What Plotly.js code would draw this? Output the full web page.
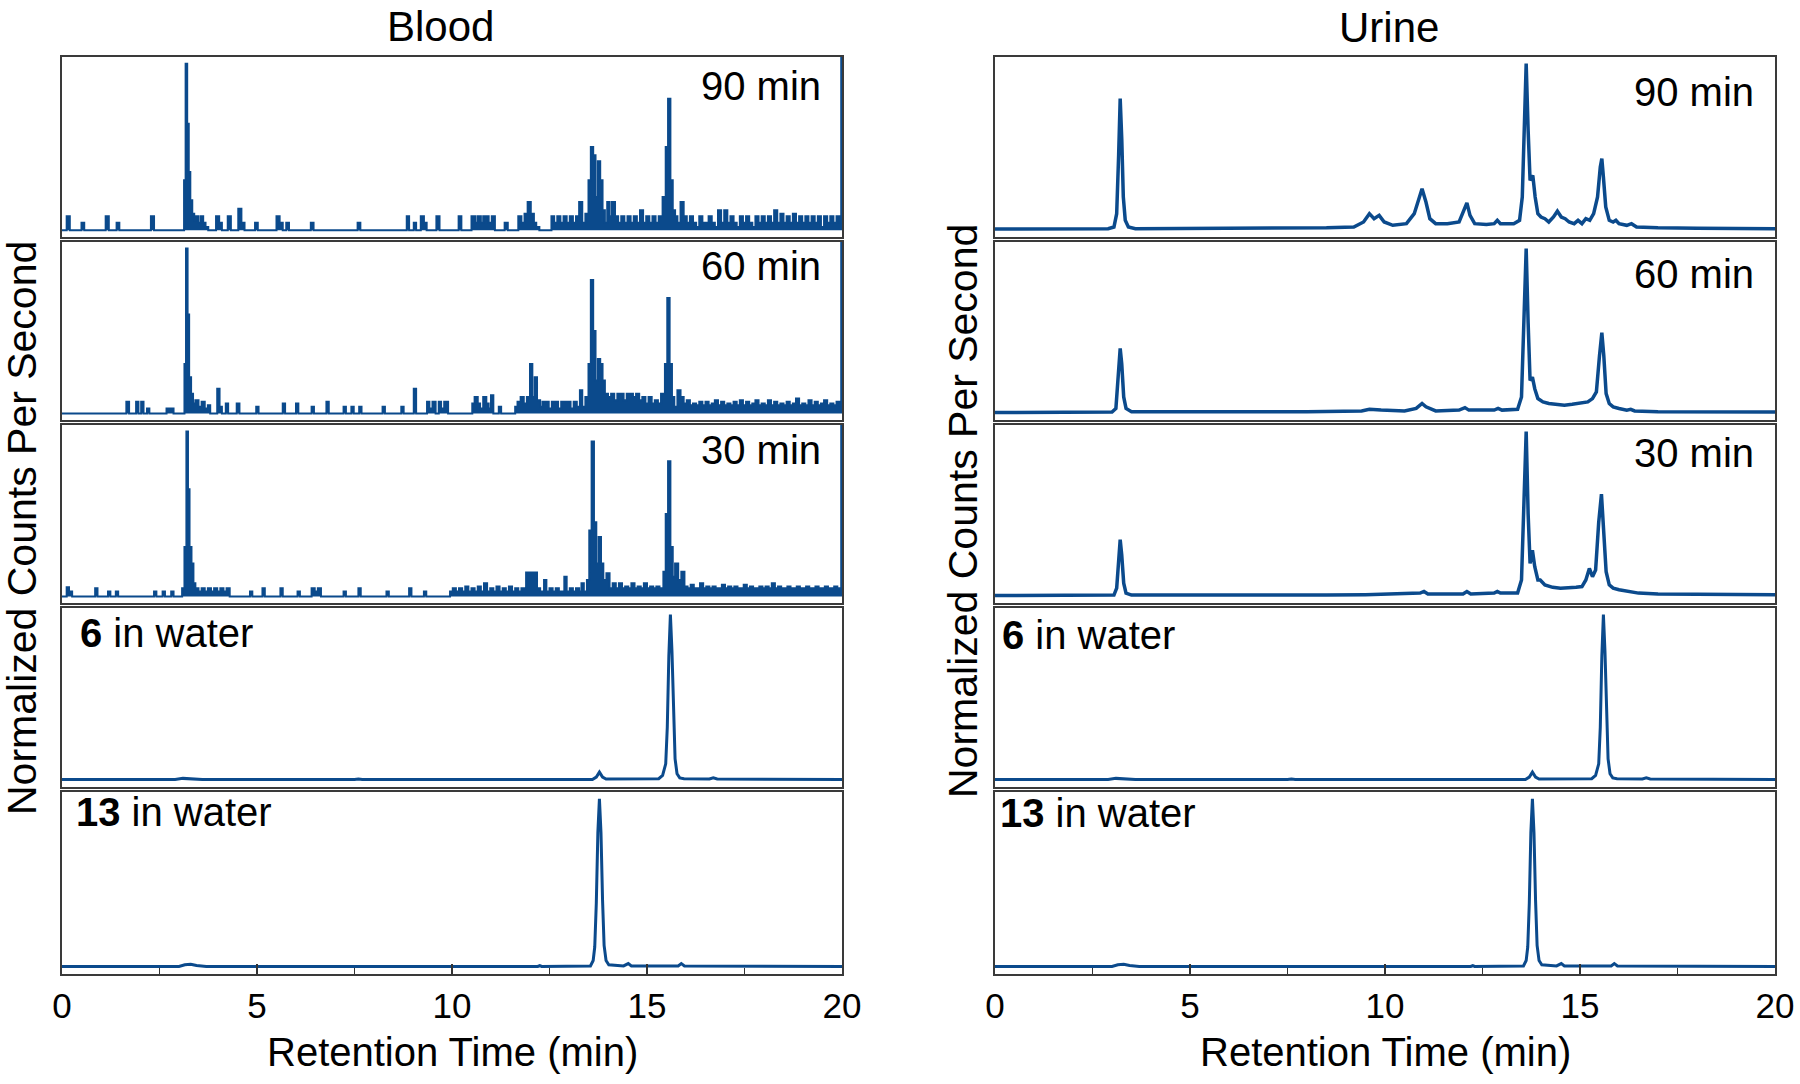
<!DOCTYPE html>
<html>
<head>
<meta charset="utf-8">
<script src="https://cdn.plot.ly/plotly-3.0.1.min.js"></script>
<style>html,body{margin:0;padding:0;background:#fff;}#chart{width:1800px;height:1084px;}</style>
</head>
<body>
<div id="chart"></div>
<script>
// ---- Data: [retention time (min), normalized counts] ----
const blood90 = [[0,0],[0.12,0.085],[0.2,0],[0.5,0.045],[0.57,0],[1.12,0.085],[1.2,0],[1.4,0.045],[1.47,0],[2.28,0.085],[2.36,0],
[3.13,0.3],[3.17,1.0],[3.21,0.64],[3.25,0.35],[3.29,0.18],[3.34,0.1],[3.39,0.06],[3.44,0.085],[3.5,0.045],[3.56,0.085],[3.62,0.045],[3.68,0.02],[3.75,0],
[3.95,0.085],[4.03,0.045],[4.1,0],[4.25,0.085],[4.33,0],[4.52,0.13],[4.6,0.045],[4.68,0],[4.95,0.045],[5.02,0],[5.5,0.085],[5.58,0.045],[5.66,0],[5.75,0.045],[5.82,0],[6.38,0.045],[6.45,0],[7.58,0.045],[7.65,0],
[8.84,0.085],[8.9,0],[9.02,0.045],[9.08,0],[9.2,0.085],[9.28,0.045],[9.35,0],[9.6,0.085],[9.68,0],[10.17,0.085],[10.24,0],
[10.5,0.085],[10.6,0.045],[10.66,0.085],[10.74,0.045],[10.8,0.085],[10.88,0.085],[10.94,0.045],[11.02,0.085],[11.1,0],[11.35,0.045],[11.43,0],
[11.7,0.085],[11.78,0.045],[11.86,0.1],[11.94,0.17],[12.02,0.1],[12.1,0.045],[12.16,0.02],[12.24,0],
[12.55,0.085],[12.62,0.045],[12.7,0.085],[12.78,0.045],[12.86,0.085],[12.94,0.045],[13.02,0.085],[13.1,0.045],[13.18,0.085],[13.26,0.17],[13.34,0.045],[13.42,0.1],
[13.5,0.3],[13.56,0.5],[13.62,0.45],[13.68,0.2],[13.74,0.415],[13.8,0.3],[13.86,0.12],[13.92,0.045],[13.98,0.17],[14.04,0.085],[14.1,0.17],[14.18,0.085],[14.26,0.045],[14.34,0.085],[14.42,0.045],[14.5,0.085],[14.58,0.045],[14.66,0.085],[14.74,0.045],[14.82,0.12],[14.9,0.045],[14.98,0.085],[15.06,0.045],[15.14,0.085],[15.22,0.045],[15.3,0.085],
[15.4,0.2],[15.48,0.5],[15.54,0.79],[15.6,0.3],[15.66,0.12],[15.72,0.085],[15.78,0.045],[15.86,0.17],[15.94,0.085],[16.02,0.045],[16.1,0.085],[16.18,0.045],[16.26,0.02],[16.34,0.085],[16.42,0.045],[16.5,0.045],[16.58,0.085],[16.66,0.045],[16.74,0.02],[16.82,0.12],[16.9,0.045],[16.98,0.12],[17.06,0.045],[17.14,0.085],[17.22,0.045],[17.3,0.02],[17.38,0.085],[17.46,0.045],[17.54,0.085],[17.62,0.045],[17.7,0.02],[17.78,0.085],[17.86,0.045],[17.94,0.085],[18.02,0.045],[18.1,0.085],[18.18,0.045],[18.26,0.12],[18.34,0.045],[18.42,0.1],[18.5,0.045],[18.58,0.085],[18.66,0.045],[18.74,0.1],[18.82,0.045],[18.9,0.085],[18.98,0.045],[19.06,0.085],[19.14,0.045],[19.22,0.085],[19.3,0.045],[19.38,0.085],[19.46,0.02],[19.54,0.085],[19.62,0.045],[19.7,0.085],[19.78,0.045],[19.86,0.085],[19.94,0.045],[19.98,1.04],[20,1.04]];

const blood60 = [[0,0],[1.65,0.07],[1.72,0],[1.9,0.07],[1.96,0],[2.03,0.07],[2.09,0],[2.18,0.03],[2.24,0],[2.68,0.03],[2.8,0.03],[2.86,0],
[3.14,0.3],[3.18,1.0],[3.22,0.6],[3.26,0.22],[3.31,0.12],[3.36,0.06],[3.42,0.08],[3.5,0.04],[3.58,0.07],[3.66,0.03],[3.74,0.05],[3.8,0],
[3.98,0.15],[4.04,0.04],[4.1,0],[4.2,0.06],[4.26,0],[4.48,0.06],[4.55,0],[4.98,0.04],[5.04,0],[5.66,0.06],[5.72,0],[6.0,0.06],[6.06,0],[6.4,0.04],[6.46,0],[6.78,0.07],[6.84,0],
[7.22,0.04],[7.28,0],[7.42,0.04],[7.48,0],[7.62,0.04],[7.68,0],[8.22,0.04],[8.28,0],[8.7,0.04],[8.76,0],[9.02,0.15],[9.08,0],
[9.36,0.07],[9.42,0.03],[9.5,0.07],[9.58,0],[9.66,0.07],[9.72,0.03],[9.8,0.07],[9.9,0],
[10.52,0.06],[10.58,0.1],[10.66,0.06],[10.72,0.03],[10.8,0.1],[10.88,0.06],[10.94,0.03],[11.0,0.11],[11.06,0],[11.2,0.04],[11.26,0],
[11.62,0.04],[11.68,0.07],[11.76,0.1],[11.84,0.06],[11.92,0.1],[12.0,0.3],[12.06,0.1],[12.12,0.22],[12.18,0.08],[12.26,0.04],[12.32,0.07],[12.4,0.07],[12.48,0.03],[12.56,0.07],[12.64,0.07],[12.72,0.03],[12.8,0.07],[12.88,0.07],[12.96,0.07],[13.04,0.03],[13.12,0.07],[13.2,0.04],[13.28,0.14],[13.34,0.04],[13.42,0.1],
[13.5,0.3],[13.56,0.81],[13.62,0.5],[13.68,0.2],[13.74,0.33],[13.8,0.3],[13.86,0.2],[13.92,0.12],[14.0,0.1],[14.08,0.12],[14.16,0.08],[14.24,0.12],[14.32,0.12],[14.4,0.08],[14.48,0.12],[14.56,0.12],[14.64,0.1],[14.72,0.12],[14.8,0.08],[14.88,0.1],[14.96,0.06],[15.04,0.1],[15.12,0.06],[15.2,0.08],[15.28,0.06],[15.36,0.12],
[15.46,0.3],[15.52,0.7],[15.58,0.3],[15.64,0.1],[15.7,0.04],[15.78,0.14],[15.86,0.1],[15.94,0.06],[16.02,0.08],[16.1,0.05],[16.18,0.06],[16.26,0.05],[16.34,0.07],[16.42,0.05],[16.5,0.07],[16.58,0.05],[16.66,0.06],[16.74,0.08],[16.82,0.05],[16.9,0.07],[16.98,0.05],[17.06,0.06],[17.14,0.05],[17.22,0.07],[17.3,0.05],[17.38,0.08],[17.46,0.05],[17.54,0.07],[17.62,0.05],[17.7,0.06],[17.78,0.08],[17.86,0.05],[17.94,0.06],[18.02,0.05],[18.1,0.08],[18.18,0.05],[18.26,0.07],[18.34,0.05],[18.42,0.06],[18.5,0.05],[18.58,0.07],[18.66,0.05],[18.74,0.06],[18.82,0.09],[18.9,0.05],[18.98,0.06],[19.06,0.05],[19.14,0.08],[19.22,0.05],[19.3,0.07],[19.38,0.05],[19.46,0.06],[19.54,0.08],[19.62,0.05],[19.7,0.06],[19.78,0.05],[19.86,0.07],[19.94,0.05],[19.98,1.04],[20,1.04]];

const blood30 = [[0,0],[0.12,0.055],[0.18,0.03],[0.26,0],[0.85,0.05],[0.91,0],[1.18,0.03],[1.24,0],[1.38,0.03],[1.44,0],[2.36,0.03],[2.42,0],[2.58,0.03],[2.64,0],[2.8,0.03],[2.86,0],[3.08,0.05],[3.14,0.3],
[3.19,1.0],[3.23,0.65],[3.27,0.3],[3.32,0.2],[3.37,0.08],[3.42,0.05],[3.5,0.03],[3.58,0.05],[3.66,0.03],[3.74,0.05],[3.82,0.03],[3.9,0.05],[3.98,0.03],[4.06,0.05],[4.14,0.03],[4.22,0.05],[4.3,0],
[4.82,0.03],[4.88,0],[5.14,0.05],[5.2,0],[5.6,0.05],[5.66,0],[6.04,0.03],[6.1,0],[6.4,0.05],[6.48,0.03],[6.56,0.05],[6.64,0],[7.22,0.03],[7.28,0],[7.6,0.05],[7.66,0],[8.32,0.03],[8.38,0],[8.9,0.05],[8.96,0],[9.28,0.03],[9.34,0],
[9.95,0.03],[10.02,0.05],[10.1,0.03],[10.18,0.05],[10.26,0.03],[10.34,0.06],[10.42,0.03],[10.5,0.05],[10.58,0.03],[10.66,0.06],[10.74,0.03],[10.82,0.08],[10.9,0.03],[10.98,0.05],[11.06,0.03],[11.14,0.06],[11.22,0.03],[11.3,0.05],[11.38,0.03],[11.46,0.06],[11.54,0.03],[11.62,0.05],[11.7,0.03],[11.78,0.05],
[11.9,0.145],[12.18,0.05],[12.26,0.03],[12.36,0.1],[12.42,0.03],[12.5,0.05],[12.58,0.03],[12.66,0.05],[12.74,0.03],[12.88,0.12],[12.94,0.03],[13.02,0.05],[13.1,0.03],[13.18,0.05],[13.26,0.03],[13.32,0.08],[13.38,0.03],[13.46,0.1],
[13.52,0.4],[13.58,0.94],[13.64,0.45],[13.7,0.2],[13.76,0.36],[13.82,0.2],[13.88,0.1],[13.96,0.14],[14.04,0.05],[14.12,0.08],[14.2,0.05],[14.28,0.08],[14.36,0.05],[14.44,0.06],[14.52,0.05],[14.6,0.08],[14.68,0.05],[14.76,0.06],[14.84,0.05],[14.92,0.08],[15.0,0.05],[15.08,0.06],[15.16,0.05],[15.24,0.06],[15.32,0.05],
[15.42,0.15],[15.48,0.5],[15.54,0.82],[15.6,0.3],[15.66,0.12],[15.72,0.2],[15.8,0.1],[15.88,0.15],[15.96,0.06],[16.04,0.05],[16.12,0.07],[16.2,0.05],[16.28,0.05],[16.36,0.08],[16.44,0.05],[16.52,0.06],[16.6,0.05],[16.68,0.06],[16.76,0.05],[16.84,0.05],[16.92,0.07],[17.0,0.05],[17.08,0.06],[17.16,0.05],[17.24,0.06],[17.32,0.05],[17.4,0.05],[17.48,0.07],[17.56,0.05],[17.64,0.06],[17.72,0.05],[17.8,0.05],[17.88,0.06],[17.96,0.05],[18.04,0.06],[18.12,0.05],[18.2,0.08],[18.28,0.05],[18.36,0.06],[18.44,0.05],[18.52,0.05],[18.6,0.06],[18.68,0.05],[18.76,0.05],[18.84,0.06],[18.92,0.05],[19.0,0.05],[19.08,0.06],[19.16,0.05],[19.24,0.05],[19.32,0.06],[19.4,0.05],[19.48,0.05],[19.56,0.06],[19.64,0.05],[19.72,0.05],[19.8,0.06],[19.88,0.05],[19.94,0.05],[19.98,1.04],[20,1.04]];

const water6 = [[0,0.005],[2.9,0.005],[3.1,0.012],[3.3,0.008],[3.6,0.005],[7.5,0.005],[7.6,0.008],[7.7,0.005],[13.6,0.005],[13.7,0.02],[13.78,0.05],[13.86,0.02],[13.95,0.008],[15.3,0.01],[15.4,0.03],[15.48,0.1],[15.52,0.32],[15.56,0.75],[15.6,1.0],[15.64,0.78],[15.68,0.38],[15.72,0.13],[15.77,0.04],[15.84,0.015],[15.95,0.01],[16.6,0.008],[16.7,0.015],[16.8,0.008],[20,0.005]];

const water13 = [[0,0.005],[3.0,0.005],[3.15,0.015],[3.3,0.018],[3.45,0.01],[3.7,0.005],[12.2,0.005],[12.25,0.01],[12.3,0.005],[13.55,0.008],[13.62,0.04],[13.66,0.12],[13.7,0.38],[13.74,0.8],[13.78,1.0],[13.82,0.8],[13.86,0.4],[13.9,0.13],[13.95,0.04],[14.02,0.015],[14.4,0.008],[14.52,0.022],[14.6,0.008],[15.8,0.008],[15.88,0.022],[15.96,0.008],[20,0.005]];

const urine90 = [[0,0.008],[2.9,0.01],[3.05,0.02],[3.12,0.1],[3.17,0.45],[3.21,0.79],[3.25,0.55],[3.29,0.2],[3.34,0.06],[3.42,0.02],[3.6,0.01],[6,0.012],[7.5,0.015],[8.5,0.015],[9.2,0.02],[9.45,0.05],[9.6,0.1],[9.72,0.07],[9.85,0.09],[9.98,0.05],[10.2,0.03],[10.55,0.04],[10.75,0.1],[10.88,0.2],[10.95,0.25],[11.05,0.17],[11.15,0.07],[11.3,0.04],[11.6,0.04],[11.9,0.05],[12.02,0.12],[12.1,0.165],[12.18,0.09],[12.3,0.04],[12.6,0.035],[12.8,0.04],[12.88,0.06],[12.96,0.04],[13.3,0.04],[13.45,0.06],[13.52,0.2],[13.57,0.7],[13.62,1.0],[13.67,0.6],[13.72,0.3],[13.79,0.33],[13.85,0.2],[13.92,0.1],[14.0,0.08],[14.1,0.07],[14.2,0.05],[14.32,0.08],[14.42,0.115],[14.52,0.08],[14.62,0.07],[14.72,0.05],[14.85,0.04],[14.95,0.06],[15.05,0.04],[15.15,0.07],[15.25,0.06],[15.35,0.1],[15.45,0.2],[15.52,0.38],[15.56,0.43],[15.6,0.32],[15.66,0.14],[15.75,0.06],[15.85,0.05],[15.92,0.06],[16.0,0.04],[16.2,0.03],[16.32,0.04],[16.45,0.02],[17,0.015],[18,0.012],[20,0.01]];

const urine60 = [[0,0.005],[3.0,0.008],[3.1,0.03],[3.16,0.2],[3.21,0.395],[3.25,0.3],[3.3,0.1],[3.36,0.03],[3.5,0.01],[8,0.01],[9.4,0.015],[9.6,0.025],[9.75,0.02],[9.9,0.02],[10.5,0.015],[10.8,0.03],[10.95,0.06],[11.05,0.04],[11.3,0.015],[11.9,0.02],[12.05,0.035],[12.15,0.02],[12.8,0.02],[12.9,0.03],[13.0,0.02],[13.4,0.025],[13.5,0.1],[13.56,0.5],[13.62,1.0],[13.67,0.55],[13.72,0.2],[13.78,0.22],[13.84,0.15],[13.92,0.09],[14.05,0.07],[14.2,0.06],[14.4,0.055],[14.6,0.05],[14.8,0.055],[15.0,0.06],[15.2,0.07],[15.32,0.09],[15.42,0.13],[15.5,0.35],[15.56,0.49],[15.61,0.35],[15.67,0.12],[15.75,0.06],[15.85,0.04],[16.0,0.03],[16.2,0.02],[16.3,0.025],[16.4,0.015],[17,0.01],[20,0.008]];

const urine30 = [[0,0.005],[3.05,0.008],[3.12,0.05],[3.17,0.2],[3.21,0.345],[3.25,0.25],[3.3,0.08],[3.36,0.02],[3.5,0.008],[8.5,0.008],[9.5,0.01],[10.9,0.02],[11.0,0.03],[11.1,0.015],[12.0,0.015],[12.1,0.03],[12.2,0.015],[12.8,0.02],[12.88,0.03],[12.96,0.02],[13.4,0.02],[13.5,0.1],[13.56,0.5],[13.62,1.0],[13.67,0.5],[13.72,0.2],[13.78,0.28],[13.84,0.18],[13.92,0.1],[13.98,0.1],[14.1,0.07],[14.3,0.055],[14.5,0.05],[14.7,0.05],[14.9,0.055],[15.05,0.06],[15.15,0.1],[15.24,0.17],[15.32,0.12],[15.4,0.16],[15.48,0.45],[15.55,0.62],[15.61,0.4],[15.67,0.15],[15.75,0.07],[15.85,0.05],[16.0,0.04],[16.2,0.03],[16.5,0.02],[17,0.015],[20,0.01]];

const columnTitles = ["Blood", "Urine"];
const panelLabels = ["90 min", "60 min", "30 min", "<b>6</b> in water", "<b>13</b> in water"];
const xTitle = "Retention Time (min)";
const yTitle = "Normalized Counts Per Second";
const xTickVals = [0, 5, 10, 15, 20];

// ---- Layout geometry (pixels) ----
const W = 1800, H = 1084;
const colX = [[62, 842], [995, 1775]];
const rowY = [[57, 237], [242, 420], [425, 603], [608, 787], [792, 974]];
const COLOR = "#0b4a8c";
const FONT = "Liberation Sans, Arial, Helvetica, sans-serif";

const columns = [
  [blood90, blood60, blood30, water6, water13],
  [urine90, urine60, urine30, water6, water13]
];
const noisy = [[true, true, true, false, false], [false, false, false, false, false]];
const lineW = [[2, 2, 2, 3, 3], [3.5, 3.5, 3.5, 3, 3]];

const traces = [];
const layout = {
  width: W, height: H,
  margin: {l: 0, r: 0, t: 0, b: 0},
  paper_bgcolor: "#fff", plot_bgcolor: "#fff",
  showlegend: false,
  font: {family: FONT, color: "#000"},
  annotations: []
};

let idx = 0;
for (let c = 0; c < 2; c++) {
  for (let r = 0; r < 5; r++) {
    idx++;
    const data = columns[c][r];
    const xs = data.map(p => p[0]);
    const ys = data.map(p => p[1]);
    const xa = idx === 1 ? "x" : "x" + idx;
    const ya = idx === 1 ? "y" : "y" + idx;
    const isNoisy = noisy[c][r];
    traces.push({
      type: "scatter", mode: "lines", x: xs, y: ys, xaxis: xa, yaxis: ya,
      line: {color: COLOR, width: lineW[c][r], shape: isNoisy ? "hv" : "linear"},
      fill: isNoisy ? "tozeroy" : "none", fillcolor: COLOR,
      hoverinfo: "skip"
    });
    const bottom = r === 4;
    layout["xaxis" + (idx === 1 ? "" : idx)] = {
      domain: [colX[c][0] / W, colX[c][1] / W],
      range: [0, 20], anchor: ya,
      showline: true, mirror: true, linecolor: "#3a3a3a", linewidth: 2,
      showgrid: false, zeroline: false,
      ticks: bottom ? "inside" : "", ticklen: 10, tickwidth: 1.5, tickcolor: "#333",
      tickvals: xTickVals, ticktext: xTickVals.map(String),
      showticklabels: bottom,
      tickfont: {size: 35, family: FONT, color: "#000"},
      minor: bottom ? {ticks: "inside", ticklen: 6, tickwidth: 1.5, tickcolor: "#333", dtick: 2.5, tick0: 0, showgrid: false} : {ticks: ""},
      fixedrange: true
    };
    layout["yaxis" + (idx === 1 ? "" : idx)] = {
      domain: [1 - rowY[r][1] / H, 1 - rowY[r][0] / H],
      range: [-0.04, 1.04], anchor: xa,
      showline: true, mirror: true, linecolor: "#3a3a3a", linewidth: 2,
      showgrid: false, zeroline: false, ticks: "", showticklabels: false,
      fixedrange: true
    };
  }
}

function ann(text, xpx, ypx, size, opts) {
  return Object.assign({
    text: text, xref: "paper", yref: "paper",
    x: xpx / W, y: 1 - ypx / H, showarrow: false,
    xanchor: "center", yanchor: "middle",
    font: {size: size, family: FONT, color: "#000"}
  }, opts || {});
}

// column titles
layout.annotations.push(ann(columnTitles[0], 440, 26, 42));
layout.annotations.push(ann(columnTitles[1], 1389, 27, 42));
// x-axis titles
layout.annotations.push(ann(xTitle, 452, 1052, 40));
layout.annotations.push(ann(xTitle, 1385, 1052, 40));
// y-axis titles
layout.annotations.push(ann(yTitle, 22, 528, 41, {textangle: -90}));
layout.annotations.push(ann(yTitle, 963, 511, 41, {textangle: -90}));

// panel labels
const leftLabelPos = [[823, 86], [823, 266], [823, 450], [78, 633], [74, 812]];
const rightLabelPos = [[1756, 92], [1756, 274], [1756, 453], [1000, 635], [998, 813]];
for (let r = 0; r < 5; r++) {
  const anchor = r < 3 ? "right" : "left";
  layout.annotations.push(ann(panelLabels[r], leftLabelPos[r][0], leftLabelPos[r][1], 40, {xanchor: anchor}));
  layout.annotations.push(ann(panelLabels[r], rightLabelPos[r][0], rightLabelPos[r][1], 40, {xanchor: anchor}));
}

Plotly.newPlot("chart", traces, layout, {displayModeBar: false, staticPlot: true});
</script>
</body>
</html>
